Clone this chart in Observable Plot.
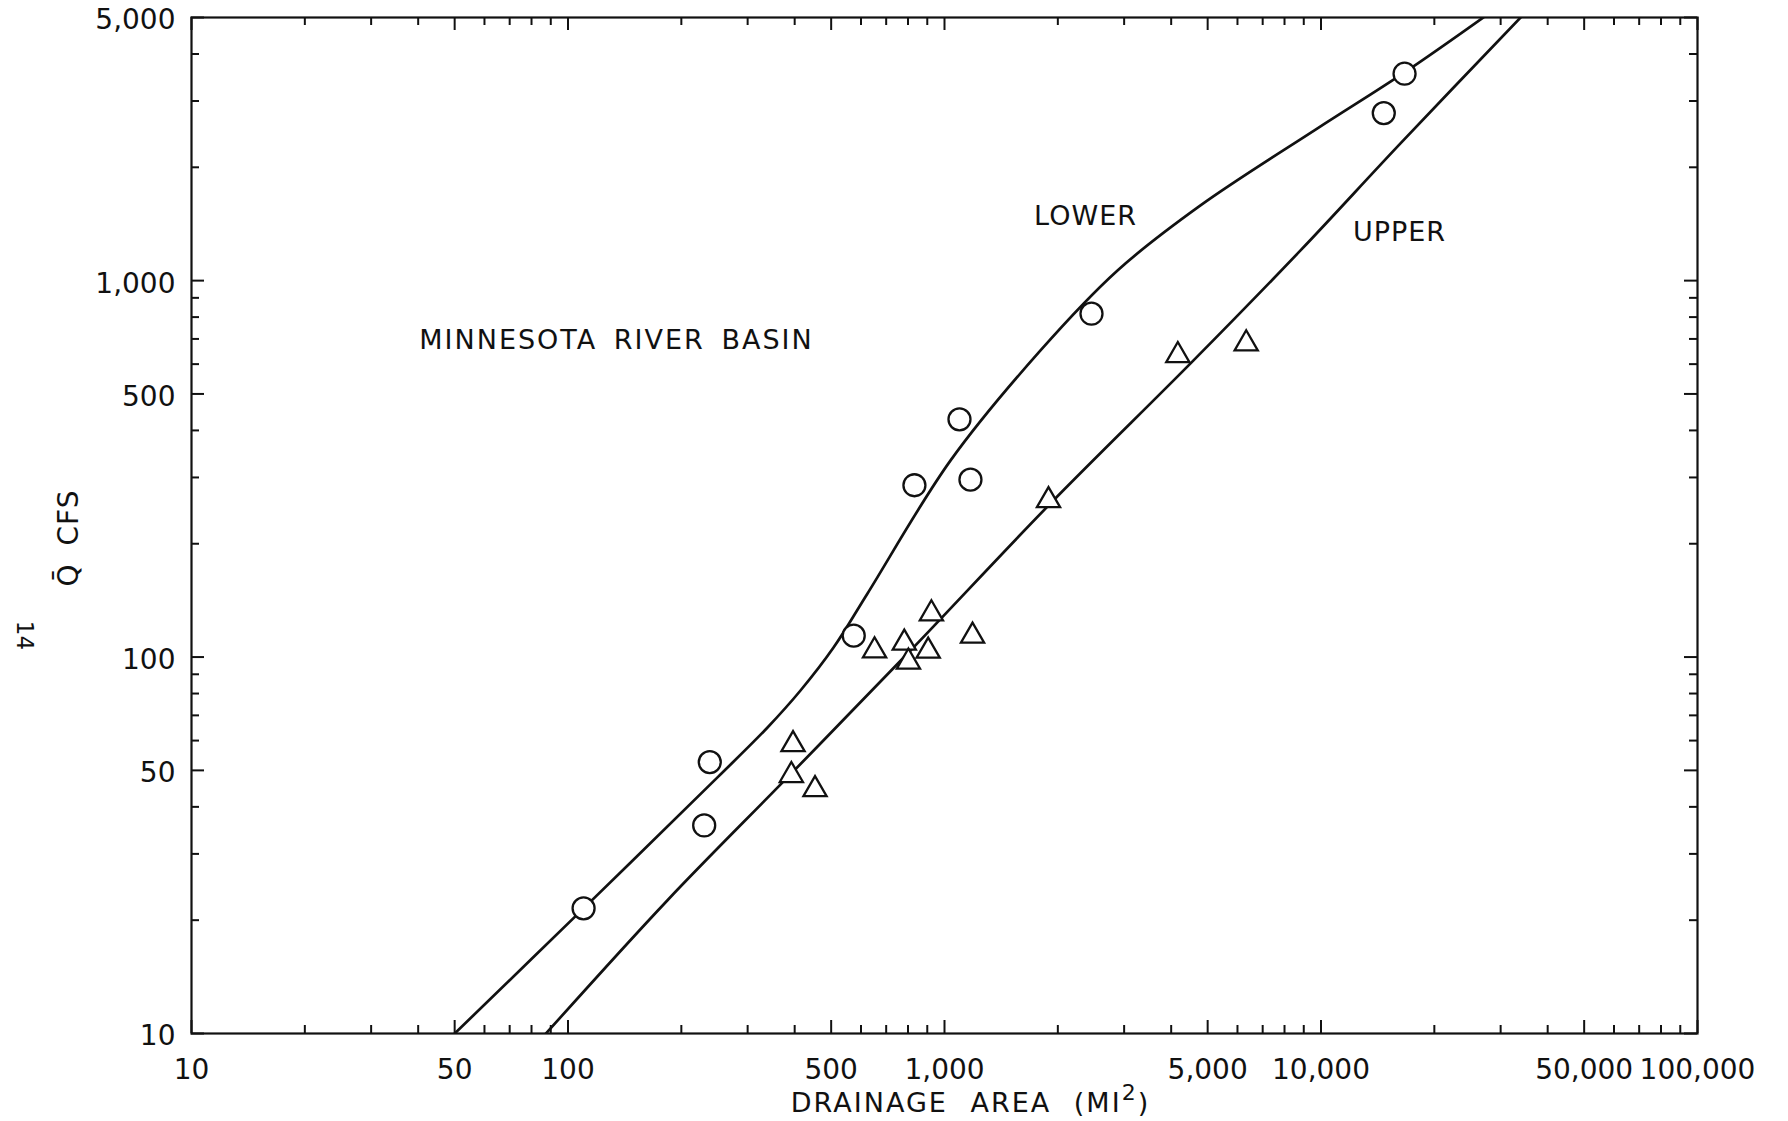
<!DOCTYPE html>
<html>
<head>
<meta charset="utf-8">
<script src="https://cdn.jsdelivr.net/npm/d3@7"></script>
<script src="https://cdn.jsdelivr.net/npm/@observablehq/plot@0.6"></script>
<style>
  html, body { margin: 0; padding: 0; background: #fff; }
  #chart svg { display: block; }
</style>
</head>
<body>
<div id="chart"></div>
<script>
// ---- Data (drainage area in mi², mean discharge Q̄ in cfs) ----
// Lower Minnesota River basin stations (circles)
const lowerArea = [110, 230, 238, 574, 832, 1096, 1172, 2457, 14680, 16670];
const lowerQ    = [21.5, 35.7, 52.6, 114, 286, 428, 296, 817, 2786, 3545];

// Upper Minnesota River basin stations (triangles)
const upperArea = [396, 392, 453, 652, 782, 802, 905, 923, 1187, 1889, 4166, 6329];
const upperQ    = [58.6, 48.5, 44.5, 104, 109, 97.1, 103.8, 130.4, 113.8, 260.6, 633, 680];

// Fitted curve labelled "LOWER"
const lowerCurveArea = [49.5, 110, 249.5, 338.8, 414.5, 507.3, 624.5, 1038, 1799, 2881, 4786, 9788, 16668, 28190];
const lowerCurveQ    = [9.9, 21.5, 47.9, 65.0, 81.5, 106.0, 147.6, 333, 652.6, 1064, 1584, 2537, 3573, 5158];

// Fitted curve labelled "UPPER"
const upperCurveArea = [87, 183.8, 382.8, 812.3, 1912, 4586, 8823, 16260, 34930];
const upperCurveQ    = [9.95, 22.6, 47.9, 104.1, 255.9, 613.8, 1203, 2315, 5159];

// Axis tick labels
const xTickLabels = [10, 50, 100, 500, 1000, 5000, 10000, 50000, 100000];
const yTickLabels = [10, 50, 100, 500, 1000, 5000];

// Text annotations
const noteText = ["MINNESOTA RIVER BASIN", "LOWER", "UPPER"];
const noteArea = [134.5, 2369, 16160];
const noteQ    = [694, 1481, 1343];

const xTitleMain = "DRAINAGE AREA (MI";
const xTitleSup = "2";
const xTitleEnd = ")";
const yTitleQ = "Q\u0304";
const yTitleUnit = "CFS";
const pageNumber = "14";

// ---- Layout ----
const W = 1788, H = 1121;
const M = {top: 17, right: 91, bottom: 88, left: 191};
const frameW = W - M.left - M.right;
const frameH = H - M.top - M.bottom;
const longTick = 13, shortTick = 8;
const ink = "#111";
const font = "DejaVu Sans";

// minor tick positions (2,3,4,6,7,8,9 of each decade)
function minorTicks(maxV) {
  const out = [];
  for (let d = 10; d < maxV; d *= 10)
    for (const m of [2, 3, 4, 6, 7, 8, 9]) if (d * m < maxV) out.push(d * m);
  return out;
}
const xMinor = minorTicks(100000);
const yMinor = minorTicks(5000);

const circles = lowerArea.map((a, i) => ({area: a, q: lowerQ[i]}));
const triangles = upperArea.map((a, i) => ({area: a, q: upperQ[i]}));
const lowerCurve = lowerCurveArea.map((a, i) => ({area: a, q: lowerCurveQ[i]}));
const upperCurve = upperCurveArea.map((a, i) => ({area: a, q: upperCurveQ[i]}));
const notes = noteText.map((t, i) => ({text: t, area: noteArea[i], q: noteQ[i]}));

const tickStyle = {stroke: ink, strokeWidth: 2};
const fmt = d3.format(",");
const xTitleFull = xTitleMain + xTitleSup + xTitleEnd;

const chart = Plot.plot({
  width: W,
  height: H,
  marginTop: M.top,
  marginRight: M.right,
  marginBottom: M.bottom,
  marginLeft: M.left,
  style: {fontFamily: font, fontSize: "28px", color: ink, background: "#fff"},
  x: {type: "log", domain: [10, 100000], axis: null},
  y: {type: "log", domain: [10, 5000], axis: null},
  marks: [
    // inward ticks on all four sides
    Plot.ruleX(xTickLabels, {...tickStyle, insetTop: frameH - longTick}),
    Plot.ruleX(xMinor, {...tickStyle, insetTop: frameH - shortTick}),
    Plot.ruleX(xTickLabels, {...tickStyle, insetBottom: frameH - longTick}),
    Plot.ruleX(xMinor, {...tickStyle, insetBottom: frameH - shortTick}),
    Plot.ruleY(yTickLabels, {...tickStyle, insetRight: frameW - longTick}),
    Plot.ruleY(yMinor, {...tickStyle, insetRight: frameW - shortTick}),
    Plot.ruleY(yTickLabels, {...tickStyle, insetLeft: frameW - longTick}),
    Plot.ruleY(yMinor, {...tickStyle, insetLeft: frameW - shortTick}),
    Plot.frame({stroke: ink, strokeWidth: 2.2}),
    // tick labels
    Plot.text(xTickLabels, {x: d => d, frameAnchor: "bottom", textAnchor: "middle", lineAnchor: "top", dy: 26, text: fmt, fontSize: 28, fill: ink}),
    Plot.text(yTickLabels, {y: d => d, frameAnchor: "left", textAnchor: "end", lineAnchor: "middle", dx: -16, dy: 3, text: fmt, fontSize: 28, fill: ink}),
    // curves
    Plot.line(lowerCurve, {x: "area", y: "q", curve: "catmull-rom", stroke: ink, strokeWidth: 2.7, clip: true}),
    Plot.line(upperCurve, {x: "area", y: "q", curve: "catmull-rom", stroke: ink, strokeWidth: 2.7, clip: true}),
    // stations
    Plot.dot(circles, {x: "area", y: "q", r: 11, stroke: ink, strokeWidth: 2.3, fill: "white"}),
    Plot.dot(triangles, {x: "area", y: "q", symbol: "triangle", r: 8.6, stroke: ink, strokeWidth: 2.3, fill: "white"}),
    // annotations
    Plot.text(notes, {x: "area", y: "q", text: "text", textAnchor: "middle", lineAnchor: "middle", fontSize: 27, fill: ink}),
    // axis titles
    Plot.text([xTitleFull], {frameAnchor: "bottom", textAnchor: "middle", lineAnchor: "middle", dx: 26, dy: 70, fontSize: 27, fill: ink}),
    Plot.text([yTitleUnit], {frameAnchor: "left", textAnchor: "middle", lineAnchor: "middle", dx: -122, dy: -8, rotate: -90, fontSize: 28, fill: ink}),
    Plot.text([yTitleQ], {frameAnchor: "left", textAnchor: "middle", lineAnchor: "middle", dx: -122, dy: 50, rotate: -90, fontSize: 28, fill: ink}),
    Plot.text([pageNumber], {frameAnchor: "left", textAnchor: "middle", lineAnchor: "middle", dx: -167, dy: 110, rotate: 90, fontSize: 23, fill: ink})
  ]
});

// hand-lettered look: wider letter spacing; real superscript on MI²
d3.select(chart).selectAll("text").each(function () {
  const t = this.textContent;
  const sel = d3.select(this);
  if (t === "MINNESOTA RIVER BASIN") sel.style("letter-spacing", "2px").style("word-spacing", "6px");
  else if (t === xTitleFull) {
    sel.style("letter-spacing", "2px").style("word-spacing", "12px");
    sel.text(null);
    sel.append("tspan").text(xTitleMain);
    sel.append("tspan").attr("dy", -12).attr("font-size", 22).text(xTitleSup);
    sel.append("tspan").attr("dy", 12).text(xTitleEnd);
  }
  else if (t === "LOWER" || t === "UPPER" || t === yTitleUnit) sel.style("letter-spacing", "1px");
});

document.getElementById("chart").appendChild(chart);
</script>
</body>
</html>
